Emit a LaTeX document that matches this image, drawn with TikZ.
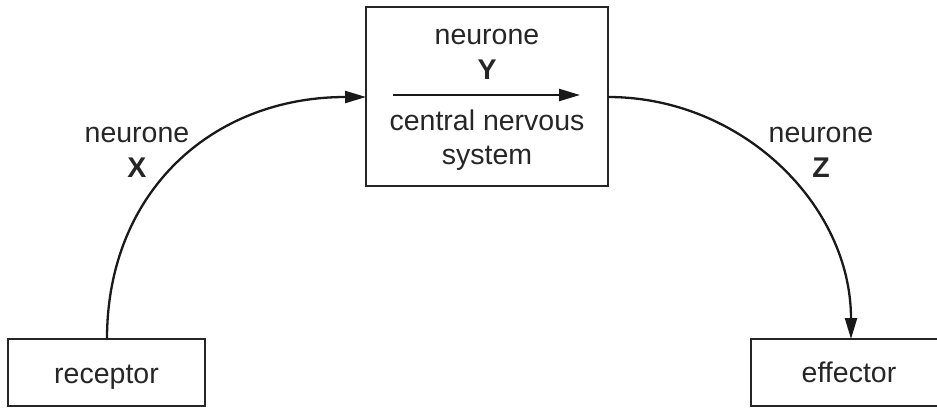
\documentclass[tikz,border=0pt]{standalone}
\usepackage{fontspec}
\setmainfont{Liberation Sans}
\usetikzlibrary{arrows.meta}
\begin{document}
\begin{tikzpicture}[x=1pt,y=-1pt,
  boxline/.style={draw=black!85,line width=2.3pt},
  lbl/.style={font=\fontsize{28.5}{34}\selectfont,text=black!85,inner sep=0pt,anchor=base},
  blbl/.style={lbl,font=\fontsize{28.5}{34}\selectfont\bfseries},
  conn/.style={draw=black!90,line width=2.3pt,-{Triangle[length=21pt,width=12pt]}}]
\useasboundingbox (0,0) rectangle (937,407);
\clip (0,0) rectangle (937,407);
% boxes
\node[boxline,minimum width=197pt,minimum height=67pt,inner sep=0pt] (rec) at (106.5,372.5) {};
\node[boxline,minimum width=242pt,minimum height=179pt,inner sep=0pt] (cns) at (487,96.5) {};
\node[boxline,minimum width=197pt,minimum height=67pt,inner sep=0pt] (eff) at (849.5,372.5) {};
% box texts
\node[lbl] (rect) at (106.5,383) {receptor};
\node[lbl] (efft) at (849,382) {effector};
\node[lbl] (cny) at (487,44) {neurone};
\node[blbl] (cnyb) at (487,79) {Y};
\node[lbl] (cnc) at (487,130) {central nervous};
\node[lbl] (cns2) at (487,164) {system};
% internal arrow
\coordinate (ia) at (393,95);
\coordinate (ib) at (580,95);
\draw[conn] (ia) -- (ib);
% side labels
\node[lbl] (nx) at (137,142) {neurone};
\node[blbl] (nxb) at (137,177) {X};
\node[lbl] (nz) at (821,142) {neurone};
\node[blbl] (nzb) at (821,177) {Z};
% connectors
\coordinate (l0) at (107,339);
\coordinate (l1) at (366,97);
\coordinate (r0) at (608,97);
\coordinate (r1) at (851,339);
\draw[conn] (l0) .. controls (107,192) and (212,97) .. (l1);
\draw[conn] (r0) .. controls (742,97) and (851,205) .. (r1);
\end{tikzpicture}
\end{document}
